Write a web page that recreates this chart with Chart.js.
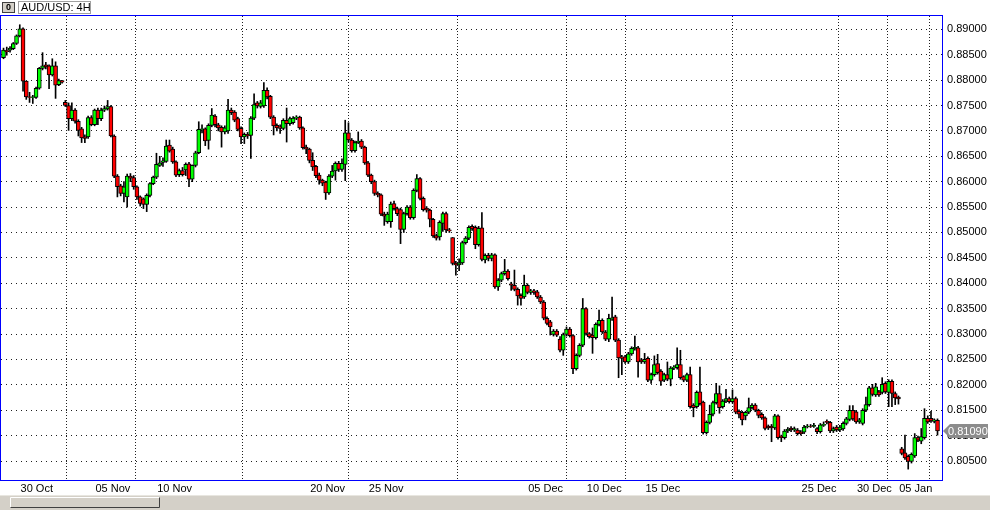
<!DOCTYPE html>
<html><head><meta charset="utf-8">
<script src="https://cdn.jsdelivr.net/npm/chart.js@4.4.1/dist/chart.umd.min.js"></script>
<style>html,body{margin:0;padding:0;background:#fff;overflow:hidden}canvas{display:block}</style>
</head><body>
<canvas id="c" width="990" height="510"></canvas>
<script>
const symbolTitle = 'AUD/USD: 4H';
const windowIndex = '0';

const open = [
.8844,.8858,.8859,.8862,.8872,.8887,.8901,.8798,.8767,.8766,
.8766,.8784,.8823,.8830,.8828,.8810,.8828,.8791,.8799,.8756,
.8750,.8724,.8741,.8719,.8704,.8688,.8688,.8726,.8712,.8741,
.8724,.8741,.8743,.8748,.8690,.8611,.8592,.8577,.8570,.8611,
.8608,.8590,.8570,.8566,.8555,.8573,.8596,.8609,.8632,.8638,
.8640,.8672,.8664,.8639,.8614,.8622,.8623,.8635,.8605,.8632,
.8657,.8703,.8704,.8681,.8711,.8729,.8712,.8707,.8698,.8700,
.8741,.8737,.8724,.8705,.8688,.8693,.8691,.8725,.8755,.8748,
.8749,.8780,.8768,.8727,.8711,.8708,.8705,.8721,.8714,.8716,
.8725,.8727,.8706,.8668,.8664,.8642,.8630,.8613,.8603,.8599,
.8578,.8611,.8621,.8636,.8624,.8634,.8696,.8682,.8661,.8677,
.8680,.8668,.8637,.8613,.8600,.8577,.8574,.8536,.8521,.8521,
.8557,.8547,.8545,.8506,.8537,.8550,.8529,.8583,.8606,.8567,
.8548,.8544,.8526,.8494,.8491,.8518,.8537,.8505,.8490,.8439,
.8436,.8440,.8480,.8489,.8512,.8510,.8476,.8509,.8446,.8455,
.8449,.8456,.8393,.8406,.8419,.8424,.8399,.8396,.8388,.8376,
.8373,.8396,.8382,.8385,.8383,.8373,.8363,.8331,.8324,.8299,
.8306,.8290,.8268,.8299,.8310,.8297,.8232,.8258,.8278,.8350,
.8301,.8298,.8293,.8319,.8327,.8304,.8290,.8330,.8334,.8288,
.8255,.8255,.8245,.8261,.8271,.8273,.8249,.8245,.8252,.8209,
.8220,.8242,.8227,.8209,.8220,.8211,.8233,.8234,.8240,.8216,
.8209,.8220,.8160,.8157,.8186,.8166,.8106,.8126,.8142,.8165,
.8183,.8157,.8168,.8173,.8167,.8173,.8148,.8146,.8139,.8146,
.8155,.8160,.8150,.8142,.8135,.8119,.8119,.8115,.8139,.8099,
.8096,.8109,.8115,.8111,.8111,.8107,.8107,.8117,.8119,.8118,
.8114,.8108,.8120,.8128,.8126,.8109,.8117,.8111,.8113,.8124,
.8132,.8150,.8147,.8127,.8124,.8150,.8161,.8194,.8180,.8186,
.8185,.8203,.8185,.8207,.8183,.8176,.8074,.8066,.8059,.8049,
.8060,.8096,.8089,.8096,.8134,.8134,.8128,.8130
];
const high = [
.8863,.8865,.8866,.8874,.8889,.8909,.8903,.8798,.8776,.8770,
.8786,.8825,.8854,.8835,.8830,.8842,.8836,.8802,.8799,.8760,
.8755,.8755,.8744,.8722,.8707,.8692,.8729,.8730,.8743,.8745,
.8745,.8749,.8760,.8750,.8692,.8614,.8595,.8600,.8615,.8616,
.8612,.8592,.8572,.8568,.8576,.8598,.8611,.8656,.8650,.8647,
.8682,.8682,.8668,.8641,.8625,.8628,.8637,.8638,.8633,.8660,
.8718,.8712,.8706,.8714,.8744,.8732,.8715,.8710,.8710,.8762,
.8745,.8740,.8727,.8708,.8696,.8697,.8728,.8773,.8758,.8760,
.8795,.8785,.8770,.8730,.8714,.8712,.8724,.8745,.8727,.8728,
.8730,.8729,.8708,.8672,.8666,.8657,.8632,.8617,.8605,.8601,
.8614,.8632,.8639,.8640,.8645,.8721,.8716,.8685,.8680,.8698,
.8683,.8670,.8640,.8615,.8603,.8580,.8576,.8540,.8540,.8560,
.8562,.8550,.8548,.8540,.8553,.8553,.8586,.8614,.8608,.8570,
.8551,.8546,.8528,.8497,.8523,.8540,.8540,.8508,.8490,.8443,
.8448,.8483,.8492,.8513,.8515,.8513,.8512,.8539,.8458,.8459,
.8459,.8458,.8409,.8422,.8447,.8427,.8402,.8426,.8391,.8379,
.8416,.8399,.8388,.8388,.8386,.8376,.8366,.8334,.8327,.8309,
.8309,.8295,.8302,.8314,.8313,.8299,.8261,.8281,.8370,.8352,
.8303,.8312,.8322,.8347,.8330,.8307,.8339,.8373,.8337,.8291,
.8258,.8258,.8264,.8275,.8296,.8276,.8252,.8262,.8255,.8223,
.8257,.8260,.8230,.8223,.8245,.8236,.8238,.8273,.8268,.8218,
.8223,.8235,.8163,.8188,.8235,.8168,.8129,.8160,.8168,.8203,
.8198,.8171,.8191,.8176,.8190,.8176,.8151,.8148,.8148,.8174,
.8163,.8163,.8152,.8145,.8137,.8121,.8122,.8142,.8141,.8101,
.8112,.8116,.8118,.8117,.8114,.8110,.8120,.8122,.8122,.8124,
.8116,.8124,.8127,.8131,.8128,.8117,.8120,.8120,.8127,.8136,
.8159,.8159,.8150,.8134,.8153,.8176,.8197,.8201,.8203,.8189,
.8214,.8206,.8210,.8210,.8186,.8178,.8077,.8101,.8062,.8066,
.8104,.8099,.8114,.8153,.8139,.8148,.8133,.8133
];
const low = [
.8842,.8849,.8855,.8860,.8870,.8885,.8778,.8762,.8756,.8754,
.8764,.8782,.8820,.8822,.8783,.8808,.8764,.8789,.8794,.8748,
.8701,.8720,.8715,.8690,.8677,.8677,.8685,.8710,.8710,.8712,
.8720,.8738,.8741,.8688,.8608,.8570,.8572,.8560,.8550,.8600,
.8585,.8565,.8552,.8547,.8541,.8570,.8594,.8606,.8630,.8630,
.8638,.8658,.8636,.8610,.8610,.8611,.8612,.8590,.8600,.8629,
.8655,.8696,.8671,.8664,.8708,.8708,.8700,.8668,.8694,.8695,
.8732,.8718,.8700,.8675,.8675,.8685,.8646,.8722,.8745,.8745,
.8746,.8763,.8724,.8692,.8700,.8695,.8702,.8678,.8711,.8713,
.8722,.8703,.8664,.8655,.8637,.8622,.8608,.8595,.8592,.8565,
.8575,.8608,.8603,.8620,.8620,.8602,.8678,.8658,.8658,.8675,
.8665,.8634,.8610,.8596,.8573,.8570,.8533,.8514,.8518,.8510,
.8544,.8533,.8478,.8500,.8534,.8526,.8526,.8580,.8564,.8542,
.8540,.8511,.8490,.8485,.8485,.8502,.8500,.8500,.8436,.8416,
.8425,.8437,.8477,.8486,.8504,.8468,.8473,.8444,.8440,.8444,
.8444,.8390,.8386,.8403,.8416,.8406,.8386,.8385,.8357,.8357,
.8370,.8379,.8378,.8378,.8370,.8360,.8328,.8318,.8298,.8296,
.8295,.8265,.8258,.8296,.8294,.8222,.8229,.8255,.8275,.8298,
.8292,.8262,.8290,.8316,.8301,.8287,.8285,.8327,.8285,.8214,
.8220,.8242,.8242,.8258,.8268,.8215,.8242,.8242,.8206,.8203,
.8217,.8221,.8199,.8206,.8208,.8198,.8230,.8231,.8211,.8206,
.8206,.8154,.8137,.8154,.8160,.8103,.8103,.8123,.8139,.8162,
.8144,.8154,.8165,.8164,.8164,.8143,.8135,.8121,.8131,.8143,
.8152,.8147,.8135,.8132,.8111,.8112,.8088,.8112,.8093,.8088,
.8093,.8106,.8108,.8108,.8101,.8101,.8104,.8115,.8116,.8116,
.8104,.8105,.8118,.8123,.8106,.8106,.8108,.8108,.8110,.8121,
.8129,.8130,.8124,.8124,.8121,.8147,.8158,.8178,.8177,.8177,
.8182,.8183,.8157,.8157,.8161,.8162,.8062,.8053,.8034,.8046,
.8057,.8088,.8084,.8093,.8124,.8126,.8125,.8101
];
const close = [
.8859,.8856,.8863,.8872,.8887,.8901,.8798,.8767,.8766,.8767,
.8784,.8823,.8828,.8826,.8810,.8828,.8790,.8799,.8796,.8750,
.8724,.8741,.8719,.8701,.8686,.8685,.8726,.8712,.8741,.8724,
.8741,.8744,.8748,.8690,.8611,.8590,.8577,.8590,.8611,.8607,
.8590,.8570,.8557,.8555,.8573,.8596,.8609,.8634,.8637,.8641,
.8670,.8660,.8639,.8613,.8622,.8614,.8634,.8605,.8632,.8657,
.8703,.8704,.8680,.8711,.8731,.8712,.8706,.8698,.8706,.8741,
.8736,.8721,.8703,.8688,.8693,.8690,.8725,.8752,.8749,.8755,
.8780,.8767,.8727,.8710,.8706,.8705,.8721,.8714,.8724,.8725,
.8727,.8706,.8667,.8664,.8642,.8629,.8612,.8603,.8597,.8578,
.8611,.8621,.8636,.8624,.8636,.8696,.8682,.8661,.8677,.8680,
.8668,.8637,.8613,.8600,.8577,.8574,.8536,.8532,.8536,.8556,
.8547,.8537,.8506,.8537,.8550,.8529,.8583,.8606,.8567,.8545,
.8544,.8526,.8493,.8489,.8520,.8537,.8505,.8503,.8439,.8436,
.8440,.8480,.8489,.8510,.8507,.8476,.8508,.8447,.8455,.8449,
.8456,.8393,.8406,.8419,.8424,.8409,.8396,.8388,.8375,.8370,
.8396,.8382,.8385,.8382,.8373,.8363,.8331,.8321,.8314,.8306,
.8298,.8268,.8299,.8310,.8297,.8232,.8258,.8278,.8350,.8301,
.8295,.8293,.8319,.8327,.8304,.8290,.8331,.8332,.8288,.8253,
.8252,.8245,.8261,.8272,.8274,.8245,.8245,.8250,.8209,.8220,
.8240,.8224,.8207,.8220,.8211,.8233,.8235,.8240,.8214,.8209,
.8220,.8157,.8155,.8185,.8163,.8106,.8126,.8142,.8165,.8183,
.8155,.8168,.8173,.8167,.8173,.8146,.8142,.8131,.8146,.8155,
.8160,.8150,.8140,.8135,.8114,.8115,.8115,.8139,.8096,.8096,
.8109,.8113,.8111,.8114,.8104,.8104,.8117,.8119,.8118,.8120,
.8108,.8121,.8122,.8126,.8109,.8114,.8111,.8117,.8124,.8133,
.8150,.8133,.8127,.8131,.8150,.8161,.8194,.8181,.8196,.8180,
.8201,.8186,.8207,.8183,.8174,.8172,.8065,.8056,.8049,.8063,
.8096,.8091,.8098,.8134,.8127,.8129,.8131,.8109
];
const dateTickIndex = [8, 31, 50, 97, 115, 164, 182, 200, 248, 265, 278];
const dateTickLabels = ['30 Oct','05 Nov','10 Nov','20 Nov','25 Nov','05 Dec','10 Dec','15 Dec','25 Dec','30 Dec','05 Jan'];
const priceTicks = [0.805,0.81,0.815,0.82,0.825,0.83,0.835,0.84,0.845,0.85,0.855,0.86,0.865,0.87,0.875,0.88,0.885,0.89];

const bodies = open.map((o, i) => ({x: i, y: [o, close[i]]}));
const wicks = low.map((l, i) => ({x: i, y: [l, high[i]]}));
const lastPrice = close[close.length - 1];

const FONT = {family: '"Liberation Sans", Arial, sans-serif', size: 11};

const decor = {
  id: 'decor',
  beforeDraw(chart) {
    const c = chart.ctx;
    c.save();
    c.fillStyle = '#ffffff';
    c.fillRect(0, 0, chart.width, chart.height);
    c.restore();
  },
  afterDraw(chart) {
    const c = chart.ctx;
    const a = chart.chartArea;
    c.save();
    // frame
    c.strokeStyle = '#0000ff';
    c.lineWidth = 1;
    c.strokeRect(a.left - 0.5, a.top - 0.5, a.right - a.left + 1, a.bottom - a.top + 1);
    // header
    c.fillStyle = '#ffffff';
    c.fillRect(0, 0, chart.width, a.top - 1);
    c.fillStyle = '#d4d0c8';
    c.fillRect(2, 2, 13, 11);
    c.strokeStyle = '#404040';
    c.strokeRect(2.5, 2.5, 12, 10);
    c.fillStyle = '#000';
    c.font = 'bold 9px "Liberation Sans", Arial, sans-serif';
    c.textBaseline = 'middle';
    c.textAlign = 'center';
    c.fillText(windowIndex, 8.5, 8);
    c.strokeStyle = '#a0a0a0';
    c.strokeRect(18.5, 1.5, 72, 12);
    c.textAlign = 'left';
    c.font = '11px "Liberation Sans", Arial, sans-serif';
    c.fillText(symbolTitle, 21, 8);
    // price label
    const y = chart.scales.y.getPixelForValue(lastPrice);
    c.fillStyle = '#8c8c8c';
    c.beginPath();
    c.moveTo(a.right + 1, y);
    c.lineTo(a.right + 8, y - 7);
    c.lineTo(chart.width - 2, y - 7);
    c.lineTo(chart.width - 2, y + 7);
    c.lineTo(a.right + 8, y + 7);
    c.closePath();
    c.fill();
    c.fillStyle = '#ffffff';
    c.font = '11px "Liberation Sans", Arial, sans-serif';
    c.fillText(lastPrice.toFixed(5), a.right + 6, y + 0.5);
    // scrollbar
    const sy = chart.height - 15;
    c.fillStyle = '#d4d0c8';
    c.fillRect(0, sy, chart.width, 15);
    c.fillStyle = '#e8e6e0';
    c.fillRect(0, sy, chart.width, 1);
    c.fillStyle = '#d4d0c8';
    c.fillRect(10, sy + 2, 150, 11);
    c.strokeStyle = '#ffffff';
    c.beginPath(); c.moveTo(10.5, sy + 12.5); c.lineTo(10.5, sy + 2.5); c.lineTo(159.5, sy + 2.5); c.stroke();
    c.strokeStyle = '#404040';
    c.beginPath(); c.moveTo(10.5, sy + 12.5); c.lineTo(159.5, sy + 12.5); c.lineTo(159.5, sy + 2.5); c.stroke();
    c.restore();
  }
};

new Chart(document.getElementById('c'), {
  type: 'bar',
  data: {
    datasets: [
      {
        label: 'body', data: bodies, order: 0, grouped: false,
        backgroundColor: ctx => close[ctx.dataIndex] >= open[ctx.dataIndex] ? '#00ff00' : '#ff0000',
        borderColor: '#000000', borderWidth: 1, borderSkipped: false, barThickness: 4
      },
      {
        label: 'wick', data: wicks, order: 1, grouped: false,
        backgroundColor: '#000000', borderWidth: 0, barThickness: 1
      }
    ]
  },
  options: {
    responsive: false, animation: false, events: [],
    layout: {padding: {top: 16, left: 1, right: 0, bottom: 0}},
    plugins: {legend: {display: false}, tooltip: {enabled: false}, title: {display: false}},
    scales: {
      x: {
        type: 'linear', min: -0.77, max: 288.38, offset: false,
        afterBuildTicks: s => { s.ticks = dateTickIndex.map(v => ({value: v})); },
        afterFit: s => { s.height = 30; },
        ticks: {
          autoSkip: false, maxRotation: 0, align: 'start', labelOffset: -9, padding: 2,
          color: '#000', font: FONT,
          callback: (v, i) => dateTickLabels[i]
        },
        grid: {color: '#202020', drawTicks: false, lineWidth: 1},
        border: {display: false, dash: [1, 2]}
      },
      y: {
        type: 'linear', position: 'right', min: 0.80126, max: 0.89262,
        afterBuildTicks: s => { s.ticks = priceTicks.map(v => ({value: v})); },
        afterFit: s => { s.width = 48; },
        ticks: {color: '#000', font: FONT, padding: 5, callback: v => v.toFixed(5)},
        grid: {color: '#202020', drawTicks: false, lineWidth: 1},
        border: {display: false, dash: [1, 4]}
      }
    }
  },
  plugins: [decor]
});
</script>
</body></html>
